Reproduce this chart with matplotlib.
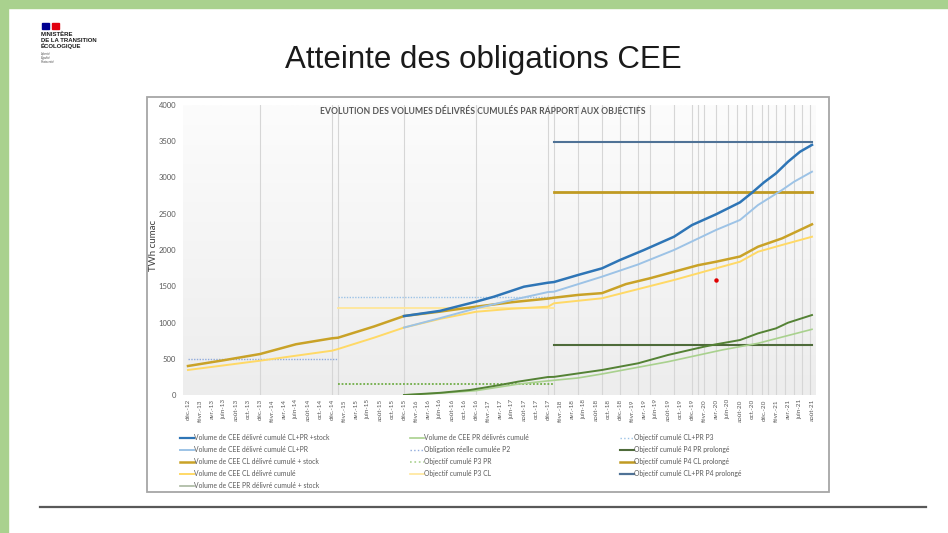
import numpy as np
import matplotlib
matplotlib.use("Agg")
import matplotlib.pyplot as plt
from matplotlib.lines import Line2D
from matplotlib.patches import Rectangle

# months counted from déc.-12 (0) to août-21 (104)
mois = ['janv.', 'févr.', 'mars', 'avr.', 'mai', 'juin', 'juil.', 'août', 'sept.', 'oct.', 'nov.', 'déc.']
tick_months = list(range(0, 105, 2))
tick_labels = []
for m in tick_months:
    k = 11 + m
    tick_labels.append(mois[k % 12] + '-' + str(12 + k // 12))

# cumulative volumes (TWh cumac)
cl_stock_m = [0, 6, 12, 18, 24, 25, 31, 36, 42, 48, 54, 60, 61, 65, 69, 73, 77, 81, 85, 88, 92, 95, 99, 104]
cl_stock_v = [400, 480, 565, 700, 782, 790, 945, 1089, 1150, 1218, 1280, 1330, 1342, 1380, 1405, 1530, 1610, 1700, 1790, 1838, 1910, 2045, 2160, 2354]

cl_m = [0, 12, 24, 25, 31, 36, 42, 48, 54, 60, 61, 69, 75, 81, 88, 92, 95, 99, 104]
cl_v = [345, 473, 611, 634, 790, 930, 1050, 1148, 1190, 1218, 1265, 1334, 1460, 1586, 1747, 1838, 1976, 2069, 2183]

clpr_stock_m = [36, 42, 48, 51, 56, 60, 61, 65, 69, 72, 76, 81, 84, 88, 92, 94, 96, 98, 100, 102, 104]
clpr_stock_v = [1089, 1160, 1287, 1356, 1494, 1549, 1558, 1655, 1747, 1862, 2000, 2183, 2344, 2492, 2657, 2790, 2933, 3057, 3217, 3355, 3450]

clpr_m = [36, 42, 48, 54, 60, 61, 69, 75, 81, 88, 92, 95, 99, 101, 104]
clpr_v = [930, 1060, 1195, 1310, 1420, 1425, 1632, 1800, 2000, 2276, 2414, 2620, 2827, 2941, 3080]

pr_stock_m = [36, 42, 47, 52, 55, 60, 61, 69, 75, 80, 86, 88, 92, 95, 98, 100, 104]
pr_stock_v = [0, 30, 69, 138, 184, 248, 250, 345, 437, 552, 666, 699, 758, 850, 919, 997, 1103]

pr_m = [36, 42, 48, 55, 60, 65, 69, 80, 89, 95, 104]
pr_v = [0, 25, 60, 150, 195, 235, 290, 459, 621, 713, 906]

# objectives (start month, end month, value)
obj_p2 = (0, 25, 500)
obj_p3_pr = (25, 61, 150)
obj_p3_cl = (25, 61, 1200)
obj_p3_clpr = (25, 61, 1350)
obj_p4_pr = (61, 104, 683)
obj_p4_cl = (61, 104, 2800)
obj_p4_clpr = (61, 104, 3483)

red_point = (88, 1586)

vlines_m = [12, 24, 25, 36, 48, 60, 61, 65, 69, 72, 75, 77, 81, 84, 85, 86, 88, 90, 91.5,
            93, 94, 95.7, 96.7, 98, 99.5, 101, 102.3, 103.7]

W, H = 948, 533
def fx(x):
    return x / W
def fy(y):
    return 1 - y / H

fig = plt.figure(figsize=(9.48, 5.33), dpi=100)
fig.patch.set_facecolor('white')

# slide decoration
green = '#a9d18e'
fig.patches.append(Rectangle((0, 0), fx(8), 1, transform=fig.transFigure, color=green, zorder=0))
fig.patches.append(Rectangle((0, fy(8)), 1, 8 / H, transform=fig.transFigure, color=green, zorder=0))
fig.add_artist(Line2D([fx(40), fx(926)], [fy(507), fy(507)], color='#595959', lw=1.6))

# logo
fig.patches.append(Rectangle((fx(42), fy(29)), 7 / W, 6 / H, transform=fig.transFigure, color='#000091'))
fig.patches.append(Rectangle((fx(52), fy(29)), 7 / W, 6 / H, transform=fig.transFigure, color='#e1000f'))
for i, t in enumerate(['MINISTÈRE', 'DE LA TRANSITION', 'ÉCOLOGIQUE']):
    fig.text(fx(41), fy(34 + i * 6), t, fontsize=4.3, fontweight='bold', color='#1a1a1a',
             family='Liberation Sans', va='center', ha='left')
for i, t in enumerate(['Liberté', 'Égalité', 'Fraternité']):
    fig.text(fx(41), fy(54 + i * 4), t, fontsize=2.3, style='italic', color='#555555',
             family='Liberation Sans', va='center', ha='left')

fig.text(fx(483), fy(60), 'Atteinte des obligations CEE', fontsize=22.5, color='#1a1a1a',
         family='Liberation Sans', ha='center', va='center')

# chart frame
fig.patches.append(Rectangle((fx(147), fy(492)), (829 - 147) / W, (492 - 97) / H,
                             transform=fig.transFigure, fill=False, edgecolor='#a6a6a6', lw=1.3))

ax = fig.add_axes([fx(183), fy(395), (816 - 183) / W, (395 - 105) / H])
ax.set_xlim(-0.83, 104.67)
ax.set_ylim(0, 4000)

grad = np.linspace(0, 1, 200).reshape(-1, 1)
ax.imshow(grad, extent=[-0.83, 104.67, 0, 4000], aspect='auto',
          cmap=matplotlib.colors.LinearSegmentedColormap.from_list('bg', ['#ededed', '#fcfcfc']),
          origin='lower', zorder=0)

for m in vlines_m:
    ax.axvline(m, color='#d6d6d6', lw=0.8, zorder=1)

def hline(o, **kw):
    ax.plot([o[0], o[1]], [o[2], o[2]], **kw)

hline(obj_p2, color='#8faadc', lw=1.0, ls=(0, (1, 1)), zorder=2)
hline(obj_p3_pr, color='#70ad47', lw=1.3, ls=(0, (1, 1)), zorder=2)
hline(obj_p3_cl, color='#ffe699', lw=1.3, zorder=2)
hline(obj_p3_clpr, color='#9dc3e6', lw=1.0, ls=(0, (1, 1)), zorder=2)
hline(obj_p4_pr, color='#4e6b3a', lw=1.5, zorder=2)
hline(obj_p4_cl, color='#c09a22', lw=2.0, zorder=2)
hline(obj_p4_clpr, color='#4f7296', lw=1.5, zorder=2)

ax.plot(pr_m, pr_v, color='#a9d18e', lw=1.2, zorder=3)
ax.plot(pr_stock_m, pr_stock_v, color='#548235', lw=1.4, zorder=3)
ax.plot(cl_m, cl_v, color='#ffd966', lw=1.4, zorder=3)
ax.plot(cl_stock_m, cl_stock_v, color='#c9a227', lw=1.8, zorder=4)
ax.plot(clpr_m, clpr_v, color='#9dc3e6', lw=1.4, zorder=4)
ax.plot(clpr_stock_m, clpr_stock_v, color='#2e75b6', lw=1.8, zorder=5)
ax.plot([red_point[0]], [red_point[1]], 'o', color='#e00000', ms=2.2, zorder=6)

for s in ax.spines.values():
    s.set_visible(False)
ax.set_yticks(range(0, 4001, 500))
ax.set_xticks(tick_months)
ax.set_xticklabels(tick_labels, rotation=90, fontsize=4.6, color='#595959', family='Lato')
ax.tick_params(axis='both', length=0)
ax.tick_params(axis='y', labelsize=5.5, labelcolor='#595959', pad=5)
ax.tick_params(axis='x', pad=3)
for lab in ax.get_yticklabels():
    lab.set_family('Lato')

fig.text(fx(153), fy(245), 'TWh cumac', rotation=90, fontsize=7, color='#404040',
         family='Lato', ha='center', va='center')
fig.text(fx(483), fy(111), 'EVOLUTION DES VOLUMES DÉLIVRÉS CUMULÉS PAR RAPPORT AUX OBJECTIFS',
         fontsize=6.2, fontweight='bold', color='#595959', family='Lato', ha='center', va='center')

# legend in three columns
col1 = [('#2e75b6', '-', 1.6, 'Volume de CEE délivré cumulé CL+PR +stock'),
        ('#9dc3e6', '-', 1.4, 'Volume de CEE délivré cumulé CL+PR'),
        ('#c9a227', '-', 1.8, 'Volume de CEE CL délivré cumulé + stock'),
        ('#ffd966', '-', 1.4, 'Volume de CEE CL délivré cumulé'),
        ('#a9b8a0', '-', 1.2, 'Volume de CEE PR délivré cumulé + stock')]
col2 = [('#a9d18e', '-', 1.2, 'Volume de CEE PR délivrés cumulé'),
        ('#8faadc', ':', 1.0, 'Obligation réelle cumulée P2'),
        ('#a9d18e', ':', 1.2, 'Objectif cumulé P3 PR'),
        ('#ffe699', '-', 1.2, 'Objectif cumulé P3 CL')]
col3 = [('#9dc3e6', ':', 1.0, 'Objectif cumulé CL+PR P3'),
        ('#4e6b3a', '-', 1.5, 'Objectif cumulé P4 PR prolongé'),
        ('#c09a22', '-', 1.8, 'Objectif cumulé P4 CL prolongé'),
        ('#4f7296', '-', 1.6, 'Objectif cumulé CL+PR P4 prolongé')]

for col, x0 in [(col1, 180), (col2, 410), (col3, 620)]:
    handles = [Line2D([], [], color=c, ls=ls, lw=lw) for c, ls, lw, _ in col]
    labels = [t for _, _, _, t in col]
    leg = fig.legend(handles, labels, loc='upper left', bbox_to_anchor=(fx(x0), fy(434)),
                     frameon=False, handlelength=2.0, handletextpad=0.1,
                     labelspacing=0.75, borderaxespad=0, borderpad=0,
                     prop={'family': 'Lato', 'size': 4.9})
    for t in leg.get_texts():
        t.set_color('#595959')

fig.savefig('out.png', dpi=100)
